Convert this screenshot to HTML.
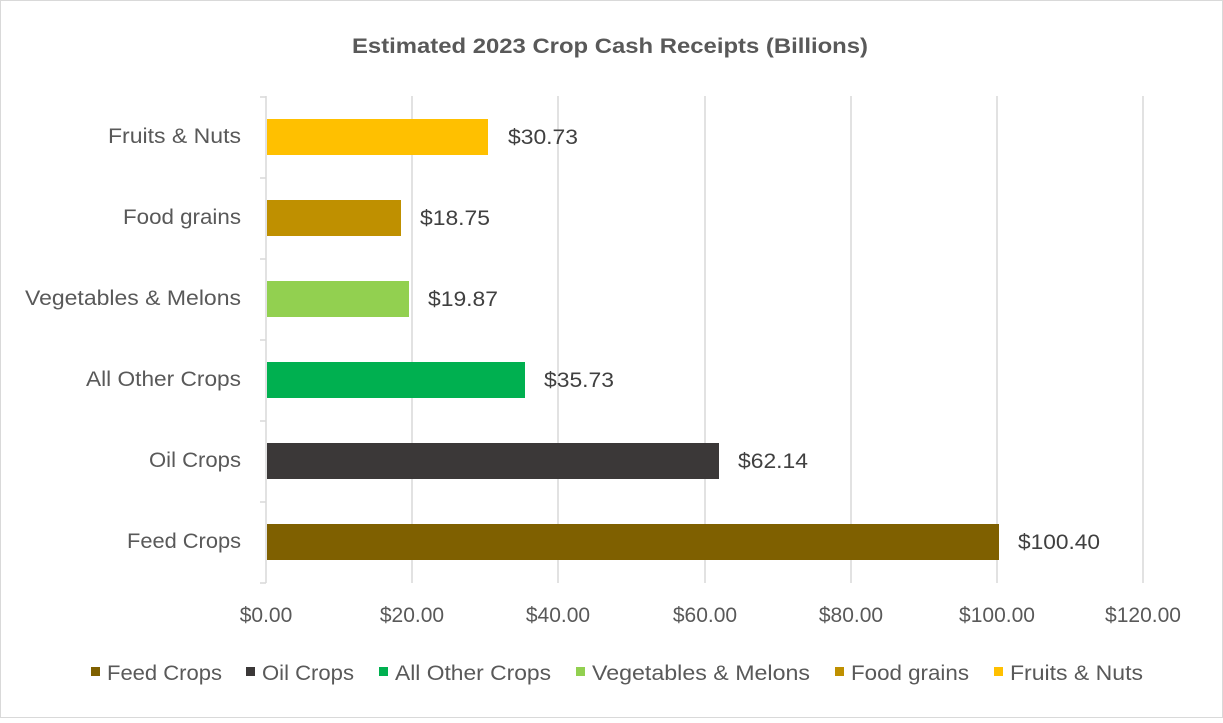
<!DOCTYPE html>
<html><head><meta charset="utf-8"><style>
body{margin:0;background:#fff;}
svg text{font-family:"Liberation Sans",sans-serif;}
</style></head><body>
<svg width="1223" height="718" xmlns="http://www.w3.org/2000/svg">
<rect x="0.5" y="0.5" width="1222" height="717" fill="#fff" stroke="#d9d9d9"/>
<text x="352" y="53" font-size="21" font-weight="bold" fill="#595959" textLength="516" lengthAdjust="spacingAndGlyphs">Estimated 2023 Crop Cash Receipts (Billions)</text>
<g stroke="#d9d9d9" stroke-width="1.5">
<line x1="412" y1="96" x2="412" y2="583"/><line x1="558" y1="96" x2="558" y2="583"/>
<line x1="705" y1="96" x2="705" y2="583"/><line x1="851" y1="96" x2="851" y2="583"/>
<line x1="997" y1="96" x2="997" y2="583"/><line x1="1143" y1="96" x2="1143" y2="583"/>
<line x1="266" y1="96" x2="266" y2="583"/>
<line x1="260" y1="97" x2="266" y2="97"/><line x1="260" y1="178" x2="266" y2="178"/>
<line x1="260" y1="259" x2="266" y2="259"/><line x1="260" y1="340" x2="266" y2="340"/>
<line x1="260" y1="421" x2="266" y2="421"/><line x1="260" y1="502" x2="266" y2="502"/>
<line x1="260" y1="583" x2="266" y2="583"/>
</g>
<rect x="267" y="119" width="221" height="36" fill="#FFC000"/>
<rect x="267" y="200" width="134" height="36" fill="#BF9000"/>
<rect x="267" y="281" width="142" height="36" fill="#92D050"/>
<rect x="267" y="362" width="258" height="36" fill="#00B050"/>
<rect x="267" y="443" width="452" height="36" fill="#3B3838"/>
<rect x="267" y="524" width="732" height="36" fill="#7F6000"/>
<g font-size="21" fill="#404040">
<text x="508" y="144" textLength="70" lengthAdjust="spacingAndGlyphs">$30.73</text>
<text x="420" y="225" textLength="70" lengthAdjust="spacingAndGlyphs">$18.75</text>
<text x="428" y="306" textLength="70" lengthAdjust="spacingAndGlyphs">$19.87</text>
<text x="544" y="387" textLength="70" lengthAdjust="spacingAndGlyphs">$35.73</text>
<text x="738" y="468" textLength="70" lengthAdjust="spacingAndGlyphs">$62.14</text>
<text x="1018" y="549" textLength="82" lengthAdjust="spacingAndGlyphs">$100.40</text>
</g>
<g font-size="21" fill="#595959">
<text x="108" y="143" textLength="133" lengthAdjust="spacingAndGlyphs">Fruits &amp; Nuts</text>
<text x="123" y="224" textLength="118" lengthAdjust="spacingAndGlyphs">Food grains</text>
<text x="25" y="305" textLength="216" lengthAdjust="spacingAndGlyphs">Vegetables &amp; Melons</text>
<text x="86" y="386" textLength="155" lengthAdjust="spacingAndGlyphs">All Other Crops</text>
<text x="149" y="467" textLength="92" lengthAdjust="spacingAndGlyphs">Oil Crops</text>
<text x="127" y="548" textLength="114" lengthAdjust="spacingAndGlyphs">Feed Crops</text>
</g>
<g font-size="21" fill="#595959" text-anchor="middle">
<text x="266" y="622">$0.00</text><text x="412" y="622">$20.00</text>
<text x="558" y="622">$40.00</text><text x="705" y="622">$60.00</text>
<text x="851" y="622">$80.00</text><text x="997" y="622">$100.00</text>
<text x="1143" y="622">$120.00</text>
</g>
<g font-size="21" fill="#595959">
<rect x="91" y="667" width="9" height="9" fill="#7F6000"/><text x="107" y="680" textLength="115" lengthAdjust="spacingAndGlyphs">Feed Crops</text>
<rect x="246" y="667" width="9" height="9" fill="#3B3838"/><text x="262" y="680" textLength="92" lengthAdjust="spacingAndGlyphs">Oil Crops</text>
<rect x="379" y="667" width="9" height="9" fill="#00B050"/><text x="395" y="680" textLength="156" lengthAdjust="spacingAndGlyphs">All Other Crops</text>
<rect x="576" y="667" width="9" height="9" fill="#92D050"/><text x="592" y="680" textLength="218" lengthAdjust="spacingAndGlyphs">Vegetables &amp; Melons</text>
<rect x="835" y="667" width="9" height="9" fill="#BF9000"/><text x="851" y="680" textLength="118" lengthAdjust="spacingAndGlyphs">Food grains</text>
<rect x="994" y="667" width="9" height="9" fill="#FFC000"/><text x="1010" y="680" textLength="133" lengthAdjust="spacingAndGlyphs">Fruits &amp; Nuts</text>
</g>
</svg>
</body></html>
